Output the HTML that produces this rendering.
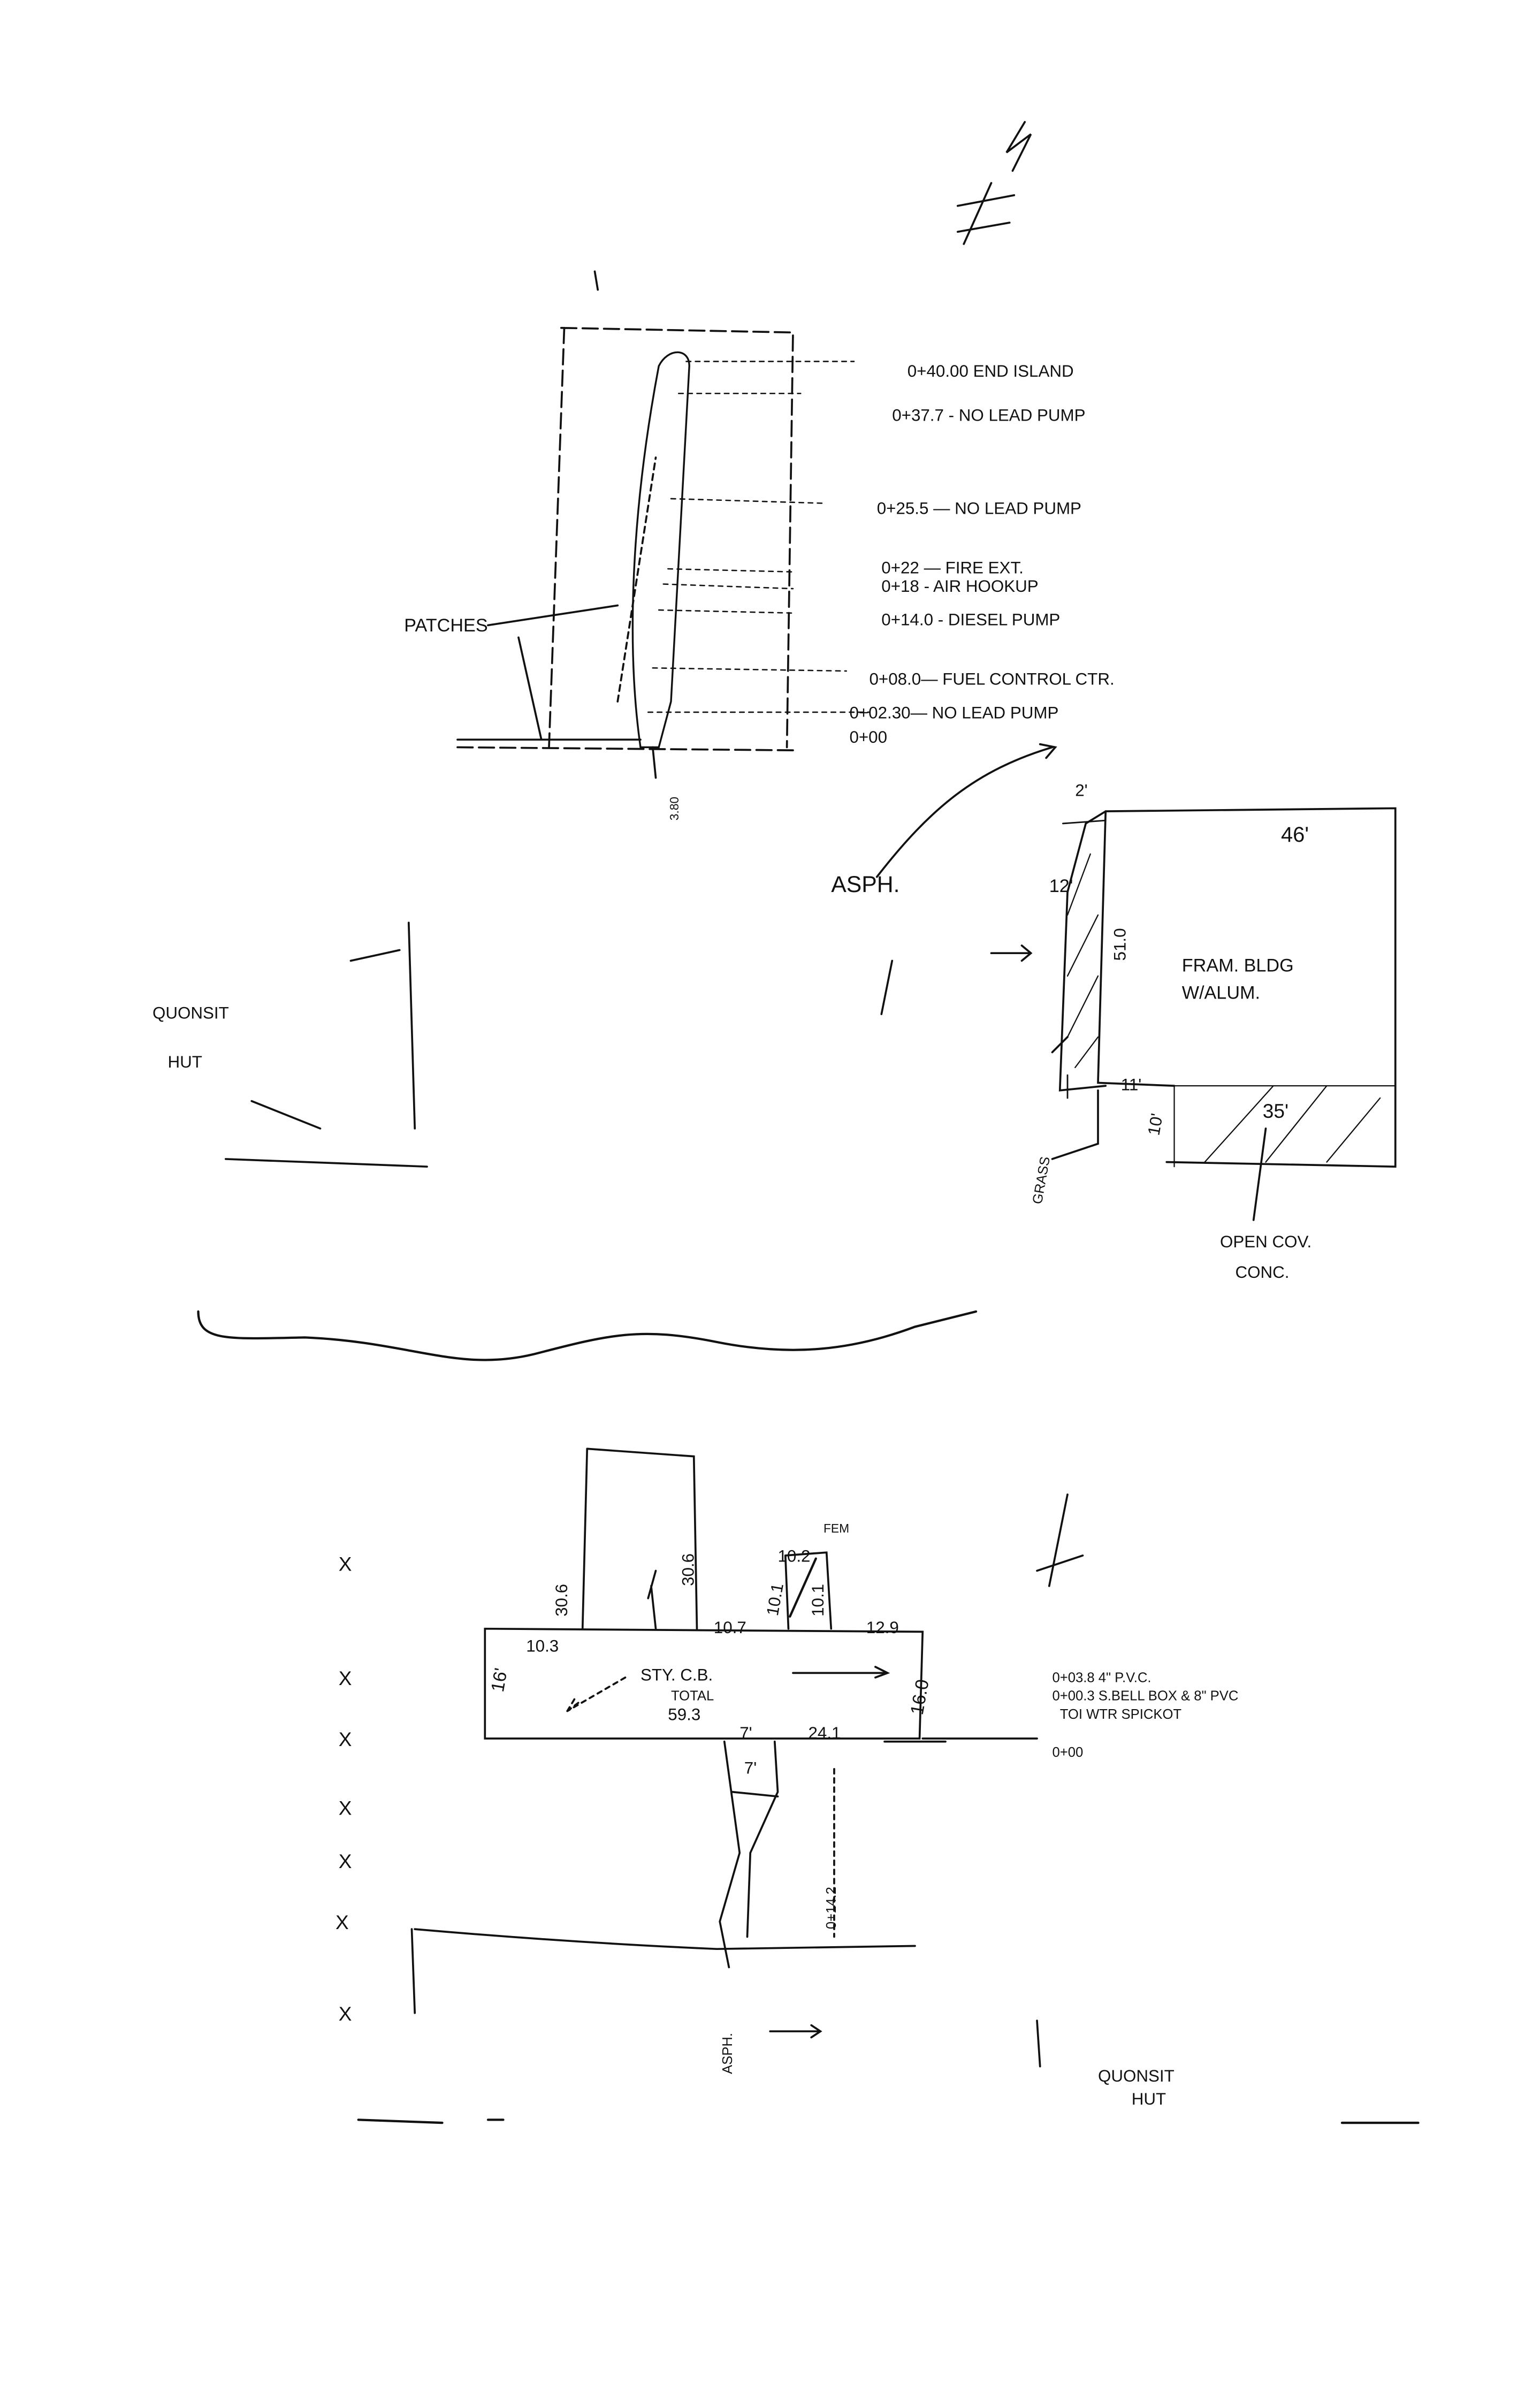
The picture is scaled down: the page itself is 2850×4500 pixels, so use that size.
<!DOCTYPE html>
<html><head><meta charset="utf-8"><style>
html,body{margin:0;padding:0;background:#fff;}
svg{display:block;}
text{font-family:"Liberation Sans",sans-serif;fill:#111;}
</style></head><body>
<svg width="2850" height="4500" viewBox="0 0 1000 1579" preserveAspectRatio="none" xmlns="http://www.w3.org/2000/svg">
<g fill="none" stroke="#111" stroke-width="1.3" stroke-linecap="round">
<!-- north arrow -->
<path d="M672 80 L660 100 L676 88 L664 112"/>
<path d="M650 120 L632 160 M628 135 L665 128 M628 152 L662 146"/>
<path d="M390 178 L392 190"/>
<!-- top rect -->
<path d="M368 215 L520 218 L516 490 M370 215 L360 490 M300 490 L520 492" stroke-dasharray="10 4"/>
<path d="M300 485 L420 485"/>
<!-- island -->
<path d="M420 490 C410 420 415 330 432 240 C438 228 452 228 452 240 L440 460 L432 490 Z" stroke-width="1.2"/>
<path d="M405 460 L430 300" stroke-dasharray="4 3"/>
<!-- leader lines -->
<g stroke-dasharray="3 3" stroke-width="0.9">
<path d="M450 237 L560 237 M445 258 L525 258 M440 327 L540 330 M438 373 L520 375 M435 383 L520 386 M432 400 L520 402 M428 438 L555 440 M425 467 L570 467"/>
</g>
<path d="M320 410 L405 397 M340 418 L355 485"/>
<path d="M428 490 L430 510"/>
<!-- arrow to building -->
<path d="M575 575 C610 530 640 505 690 490 M682 488 L692 490 L686 497"/>
<path d="M585 630 L578 665"/>
<!-- building -->
<path d="M725 532 L915 530 L915 765 L765 762 M725 532 L720 710 L770 712" />
<path d="M725 532 L712 540 L700 585 L695 715 L725 712"/>
<path d="M697 540 L725 538 M700 705 L700 720" stroke-width="1"/>
<path d="M700 600 L715 560 M700 640 L720 600 M700 680 L720 640 M705 700 L720 680" stroke-width="0.8"/>
<path d="M770 712 L915 712 M770 712 L770 765 M790 762 L835 712 M830 762 L870 712 M870 762 L905 720" stroke-width="0.8"/>
<path d="M650 625 L675 625 M670 620 L676 625 L670 630"/>
<path d="M690 690 L700 680"/>
<path d="M720 715 L720 750 L690 760"/>
<path d="M830 740 L822 800"/>
<!-- quonset -->
<path d="M268 605 L272 740 M230 630 L262 623 M165 722 L210 740 M148 760 L280 765"/>
<!-- wave -->
<path d="M130 860 C130 880 150 878 200 877 C270 880 300 900 350 888 C400 875 420 870 470 880 C520 890 560 885 600 870 L640 860" stroke-width="1.5"/>
<!-- bottom -->
<path d="M385 950 L455 955 L457 1068 M385 950 L382 1068"/>
<path d="M427 1040 L430 1068 M430 1030 L425 1048"/>
<path d="M318 1068 L605 1070 L603 1140 L318 1140 Z"/>
<path d="M515 1020 L542 1018 L545 1068 M515 1020 L517 1068"/>
<path d="M518 1060 L535 1022" stroke-width="1.5"/>
<path d="M410 1100 L372 1122 M372 1122 L380 1116 M372 1122 L378 1112" stroke-dasharray="3 3"/>
<path d="M520 1097 L580 1097 M574 1093 L582 1097 L574 1100"/>
<path d="M605 1140 L680 1140 M580 1142 L620 1142"/>
<path d="M475 1142 L485 1215 L472 1260 L478 1290 M508 1142 L510 1175 L492 1215 L490 1270"/>
<path d="M480 1175 L510 1178"/>
<path d="M547 1160 L547 1270" stroke-dasharray="3 3"/>
<path d="M270 1265 L272 1320 M272 1265 C330 1270 400 1275 470 1278 L600 1276"/>
<path d="M505 1332 L538 1332 M532 1328 L538 1332 L532 1336"/>
<path d="M680 1325 L682 1355"/>
<path d="M700 980 L688 1040 M680 1030 L710 1020"/>
<path d="M235 1390 L290 1392 M320 1390 L330 1390 M880 1392 L930 1392" stroke-width="1.5"/>
</g>
<g font-size="11">
<text x="595" y="247">0+40.00  END ISLAND</text>
<text x="585" y="276">0+37.7 - NO LEAD PUMP</text>
<text x="575" y="337">0+25.5 — NO LEAD PUMP</text>
<text x="578" y="376">0+22 — FIRE EXT.</text>
<text x="578" y="388">0+18 -  AIR HOOKUP</text>
<text x="578" y="410">0+14.0 - DIESEL PUMP</text>
<text x="570" y="449">0+08.0— FUEL CONTROL CTR.</text>
<text x="557" y="471">0+02.30— NO LEAD PUMP</text>
<text x="557" y="487">0+00</text>
<text x="265" y="414" font-size="12">PATCHES</text>
<text x="545" y="585" font-size="15">ASPH.</text>
<text x="840" y="552" font-size="14">46'</text>
<text x="775" y="637" font-size="12">FRAM. BLDG</text>
<text x="775" y="655" font-size="12">W/ALUM.</text>
<text x="735" y="715">11'</text>
<text x="828" y="733" font-size="13">35'</text>
<text x="800" y="818">OPEN COV.</text>
<text x="810" y="838">CONC.</text>
<text x="100" y="668">QUONSIT</text>
<text x="110" y="700">HUT</text>
<text x="540" y="1005" font-size="8">FEM</text>
<text x="510" y="1024">10.2</text>
<text x="468" y="1071">10.7</text>
<text x="568" y="1071">12.9</text>
<text x="345" y="1083">10.3</text>
<text x="420" y="1102">STY. C.B.</text>
<text x="440" y="1115" font-size="9">TOTAL</text>
<text x="438" y="1128">59.3</text>
<text x="485" y="1140">7'</text>
<text x="530" y="1140">24.1</text>
<text x="488" y="1163">7'</text>
<text x="690" y="1103" font-size="9">0+03.8  4" P.V.C.</text>
<text x="690" y="1115" font-size="9">0+00.3  S.BELL BOX &amp; 8" PVC</text>
<text x="695" y="1127" font-size="9">TOI WTR SPICKOT</text>
<text x="690" y="1152" font-size="9">0+00</text>
<text x="720" y="1365">QUONSIT</text>
<text x="742" y="1380">HUT</text>
<text x="330" y="1110" font-size="12" transform="rotate(-80 330 1110)">16'</text>
<text x="605" y="1125" font-size="12" transform="rotate(-80 605 1125)">16.0</text>
<text x="372" y="1060" transform="rotate(-90 372 1060)">30.6</text>
<text x="455" y="1040" transform="rotate(-90 455 1040)">30.6</text>
<text x="510" y="1060" transform="rotate(-80 510 1060)">10.1</text>
<text x="540" y="1060" transform="rotate(-90 540 1060)">10.1</text>
<text x="548" y="1265" font-size="9" transform="rotate(-90 548 1265)">0+14.2</text>
<text x="445" y="538" font-size="8" transform="rotate(-90 445 538)">3.80</text>
<text x="683" y="790" font-size="9" transform="rotate(-80 683 790)">GRASS</text>
<text x="480" y="1360" font-size="9" transform="rotate(-90 480 1360)">ASPH.</text>
<text x="760" y="745" font-size="11" transform="rotate(-80 760 745)">10'</text>
<text x="738" y="630" font-size="11" transform="rotate(-90 738 630)">51.0</text>
<text x="688" y="585" font-size="12">12'</text>
<text x="705" y="522">2'</text>
</g>
<g font-size="13">
<text x="222" y="1030">X</text><text x="222" y="1105">X</text><text x="222" y="1145">X</text><text x="222" y="1190">X</text><text x="222" y="1225">X</text><text x="220" y="1265">X</text><text x="222" y="1325">X</text>
</g>
</svg>
</body></html>
